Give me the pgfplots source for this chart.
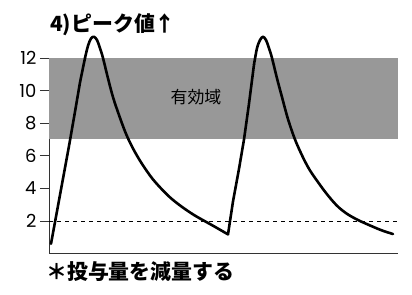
\documentclass[border=0pt]{standalone}
\usepackage{fontspec}
\setmainfont{Noto Sans CJK JP}
\newfontfamily\numfont{Poppins}
\usepackage{pgfplots}
\pgfplotsset{compat=1.18}
\definecolor{bandgray}{RGB}{152,152,152}
\begin{document}
\begin{tikzpicture}
\begin{axis}[
  scale only axis, width=349bp, height=195.6bp,
  xmin=0, xmax=349, ymin=0, ymax=12,
  axis x line*=bottom, axis y line*=left,
  xtick=\empty, ytick={2,4,6,8,10,12},
  tick align=outside, major tick length=9bp,
  clip=false,
  axis line style={line width=0.9bp, black!80},
  every tick/.style={line width=0.9bp, black!80},
  yticklabel style={font=\numfont\fontsize{18}{18}\selectfont, /pgf/number format/assume math mode=true, xshift=0bp},
]
\addplot[draw=none, fill=bandgray] coordinates {(0,7) (349,7) (349,12) (0,12)} -- cycle;
\addplot[black, line width=0.7bp, dash pattern=on 4bp off 4bp] coordinates {(0,2) (349,2)};
\addplot[black, line width=2.6bp, line join=round, line cap=round] coordinates {
(2,0.6)(8,2.6)(14,4.6)(20,6.6)(26,8.7)(31,10.5)(36,12.0)};
\addplot[black, line width=2.6bp, line join=round, line cap=round, smooth, tension=0.55] coordinates {
(36,12.0)(39,12.75)(42,13.2)(45,13.3)(48,13.1)(51,12.6)
(54,12.0)(59,10.75)(64,9.6)(70,8.5)(77,7.35)(84,6.45)(91,5.7)(98,5.05)(104,4.55)(112,4.0)(121,3.45)(130,3.0)(138,2.65)(146,2.33)(154,2.05)(162,1.78)(170,1.5)(179,1.18)};
\addplot[black, line width=2.6bp, line join=round, line cap=round] coordinates {
(179,1.18)(184,3.2)(190,5.2)(195,7.0)(200,9.2)(205,11.6)};
\addplot[black, line width=2.6bp, line join=round, line cap=round, smooth, tension=0.55] coordinates {
(205,11.6)(208,12.6)(211,13.1)(214,13.3)(217,13.1)(220,12.6)
(223,12.0)(228,10.75)(233,9.6)(239,8.25)(246,7.0)(254,5.9)(261,5.1)(270,4.3)(277,3.72)(284,3.2)(290,2.82)(297,2.48)(304,2.22)(311,2.0)(322,1.7)(333,1.42)(344,1.2)};
\node at (axis cs:147,9.6) {\fontsize{17}{17}\selectfont 有効域};
\end{axis}
\node[anchor=base west, inner sep=0pt] at (1bp,222bp) {\fontsize{21}{21}\selectfont\bfseries 4)ピーク値↑};
\node[anchor=base west, inner sep=0pt] at (-3bp,-26bp) {\fontsize{21}{21}\selectfont\bfseries ＊投与量を減量する};
\pgfresetboundingbox
\path (-49bp,-41.4bp) rectangle (363bp,253.6bp);
\end{tikzpicture}
\end{document}
